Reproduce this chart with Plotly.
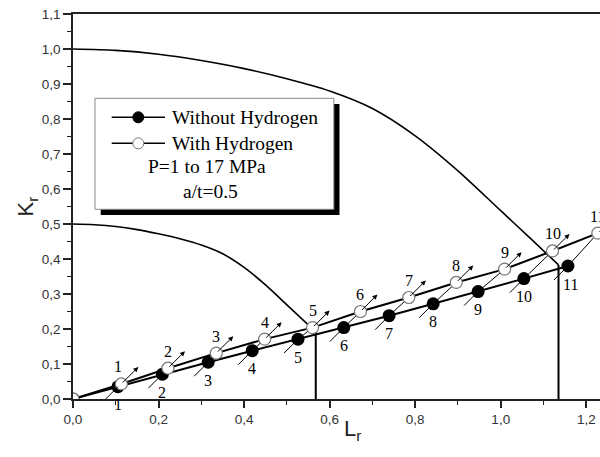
import plotly.graph_objects as go

# Assessment points, Lr / Kr, without hydrogen (filled) and with hydrogen (open)
lr_without = [0.0, 0.105, 0.209, 0.316, 0.419, 0.526, 0.633, 0.739, 0.842, 0.947, 1.054, 1.157]
kr_without = [0.0, 0.035, 0.071, 0.105, 0.138, 0.171, 0.204, 0.238, 0.272, 0.307, 0.344, 0.380]
lr_with = [0.0, 0.113, 0.222, 0.335, 0.448, 0.560, 0.672, 0.785, 0.896, 1.009, 1.121, 1.227]
kr_with = [0.0, 0.043, 0.088, 0.131, 0.171, 0.204, 0.250, 0.290, 0.333, 0.371, 0.423, 0.474]
point_labels = ["1", "2", "3", "4", "5", "6", "7", "8", "9", "10", "11"]

# Failure assessment curves (outer and inner), each ending at its Lr cut-off
fad_lr = [0.0, 0.1, 0.2, 0.3, 0.4, 0.5, 0.6, 0.7, 0.8, 0.9, 1.0, 1.07, 1.135]
fad_kr = [1.0, 0.996, 0.985, 0.967, 0.944, 0.915, 0.880, 0.830, 0.752, 0.652, 0.538, 0.458, 0.383]
inner_lr = [0.0, 0.05, 0.1, 0.15, 0.2, 0.25, 0.3, 0.35, 0.4, 0.45, 0.5, 0.535, 0.5675]
inner_kr = [0.5, 0.498, 0.493, 0.484, 0.472, 0.458, 0.440, 0.415, 0.376, 0.326, 0.269, 0.229, 0.192]

x_ticks = [0.0, 0.2, 0.4, 0.6, 0.8, 1.0, 1.2]
y_ticks = [0.0, 0.1, 0.2, 0.3, 0.4, 0.5, 0.6, 0.7, 0.8, 0.9, 1.0, 1.1]

SERIF = "Liberation Serif"
SANS = "Liberation Sans, Arial"

fig = go.Figure()

# FAD curves
fig.add_trace(go.Scatter(x=fad_lr, y=fad_kr, mode="lines",
                         line=dict(color="black", width=1.6, shape="spline", smoothing=0.8),
                         hoverinfo="skip"))
fig.add_trace(go.Scatter(x=inner_lr, y=inner_kr, mode="lines",
                         line=dict(color="black", width=1.6, shape="spline", smoothing=0.8),
                         hoverinfo="skip"))
# vertical cut-off lines
fig.add_trace(go.Scatter(x=[fad_lr[-1], fad_lr[-1], None, inner_lr[-1], inner_lr[-1]],
                         y=[fad_kr[-1], 0, None, inner_kr[-1], 0],
                         mode="lines", line=dict(color="black", width=2), hoverinfo="skip"))

# thin connectors from each dry point to its hydrogen counterpart
cx, cy = [], []
for i in range(1, len(lr_without)):
    cx += [lr_without[i], lr_with[i], None]
    cy += [kr_without[i], kr_with[i], None]
fig.add_trace(go.Scatter(x=cx, y=cy, mode="lines", line=dict(color="black", width=1), hoverinfo="skip"))

# loading paths
fig.add_trace(go.Scatter(x=lr_without, y=kr_without, mode="lines+markers",
                         line=dict(color="black", width=2),
                         marker=dict(size=13, color="black", line=dict(color="black", width=0)),
                         hoverinfo="skip"))
fig.add_trace(go.Scatter(x=lr_with, y=kr_with, mode="lines+markers",
                         line=dict(color="black", width=2),
                         marker=dict(size=12, color="white", line=dict(color="#777777", width=1.2)),
                         hoverinfo="skip"))

shapes = []
annotations = []
for i in range(1, len(lr_without)):
    lab = point_labels[i - 1]
    # tail below-left of the dry point
    shapes.append(dict(type="line", xref="x", yref="y", xsizemode="pixel", ysizemode="pixel",
                       xanchor=lr_without[i], yanchor=kr_without[i],
                       x0=-14, y0=-14, x1=0, y1=0, line=dict(color="black", width=1)))
    # arrow head beyond the hydrogen point
    annotations.append(dict(x=lr_with[i], y=kr_with[i], xref="x", yref="y", text="",
                            showarrow=True, ax=-17, ay=17, xshift=17, yshift=17,
                            arrowhead=2, arrowsize=1, arrowwidth=1, arrowcolor="black"))
    annotations.append(dict(x=lr_without[i], y=kr_without[i], xref="x", yref="y", text=lab,
                            showarrow=False, yshift=-18, xshift=3 if lab == "11" else 0,
                            font=dict(family=SERIF, size=16, color="black")))
    annotations.append(dict(x=lr_with[i], y=kr_with[i], xref="x", yref="y", text=lab,
                            showarrow=False, yshift=17, xshift=-3 if lab == "1" else 0,
                            font=dict(family=SERIF, size=16, color="black")))

# legend box with drop shadow
shapes.append(dict(type="rect", xref="paper", yref="paper", x0=0.0526, x1=0.5057, y0=0.478, y1=0.766,
                   fillcolor="black", line=dict(width=0), layer="above"))
shapes.append(dict(type="rect", xref="paper", yref="paper", x0=0.0417, x1=0.495, y0=0.4927, y1=0.781,
                   fillcolor="white", line=dict(color="#888888", width=1), layer="above"))
for yy in (0.7317, 0.664):
    shapes.append(dict(type="line", xref="paper", yref="paper", x0=0.0734, x1=0.1746, y0=yy, y1=yy,
                       line=dict(color="black", width=1.5), layer="above"))
shapes.append(dict(type="circle", xref="paper", yref="paper", xsizemode="pixel", ysizemode="pixel",
                   xanchor=0.1239, yanchor=0.7317, x0=-5.5, x1=5.5, y0=-5.5, y1=5.5,
                   fillcolor="black", line=dict(color="black", width=1), layer="above"))
shapes.append(dict(type="circle", xref="paper", yref="paper", xsizemode="pixel", ysizemode="pixel",
                   xanchor=0.1239, yanchor=0.664, x0=-5.5, x1=5.5, y0=-5.5, y1=5.5,
                   fillcolor="white", line=dict(color="#777777", width=1), layer="above"))

legend_font = dict(family=SERIF, size=19.5, color="black")
annotations += [
    dict(x=0.184, y=0.7317, xref="paper", yref="paper", text="Without Hydrogen", showarrow=False,
         xanchor="left", yanchor="middle", font=legend_font),
    dict(x=0.184, y=0.664, xref="paper", yref="paper", text="With Hydrogen", showarrow=False,
         xanchor="left", yanchor="middle", font=legend_font),
    dict(x=0.255, y=0.6034, xref="paper", yref="paper", text="P=1 to 17 MPa", showarrow=False,
         xanchor="center", yanchor="middle", font=legend_font),
    dict(x=0.2615, y=0.5384, xref="paper", yref="paper", text="a/t=0.5", showarrow=False,
         xanchor="center", yanchor="middle", font=legend_font),
    # x-axis title
    dict(x=0.531, y=-0.08, xref="paper", yref="paper", text="L<sub>r</sub>", showarrow=False,
         xanchor="center", yanchor="middle", font=dict(family=SANS, size=22, color="#222222")),
]

fig.update_layout(
    width=600, height=457,
    margin=dict(l=73, r=0, t=14, b=58),
    paper_bgcolor="white", plot_bgcolor="white",
    showlegend=False,
    separators=", ",
    shapes=shapes,
    annotations=annotations,
)
fig.update_xaxes(
    range=[0, 1.232], tickvals=x_ticks, tickformat=".1f",
    showgrid=False, zeroline=False,
    showline=True, linecolor="#222222", linewidth=1.6, mirror=True,
    ticks="outside", ticklen=7, tickwidth=1.6, tickcolor="#222222",
    minor=dict(dtick=0.1, tick0=0, ticks="outside", ticklen=4, tickwidth=1.4, tickcolor="#222222"),
    tickfont=dict(family=SANS, size=13.5, color="#333333"),
    automargin=False,
)
fig.update_yaxes(
    range=[0, 1.1], tickvals=y_ticks, tickformat=".1f",
    showgrid=False, zeroline=False,
    showline=True, linecolor="#222222", linewidth=1.6, mirror=False,
    ticks="outside", ticklen=8, tickwidth=1.6, tickcolor="#222222",
    minor=dict(dtick=0.05, tick0=0, ticks="outside", ticklen=4, tickwidth=1.4, tickcolor="#222222"),
    tickfont=dict(family=SANS, size=13.5, color="#333333"),
    title=dict(text="K<sub>r</sub>", font=dict(family=SANS, size=22, color="#222222"), standoff=2),
    automargin=False,
)

fig.write_html("out.html")
